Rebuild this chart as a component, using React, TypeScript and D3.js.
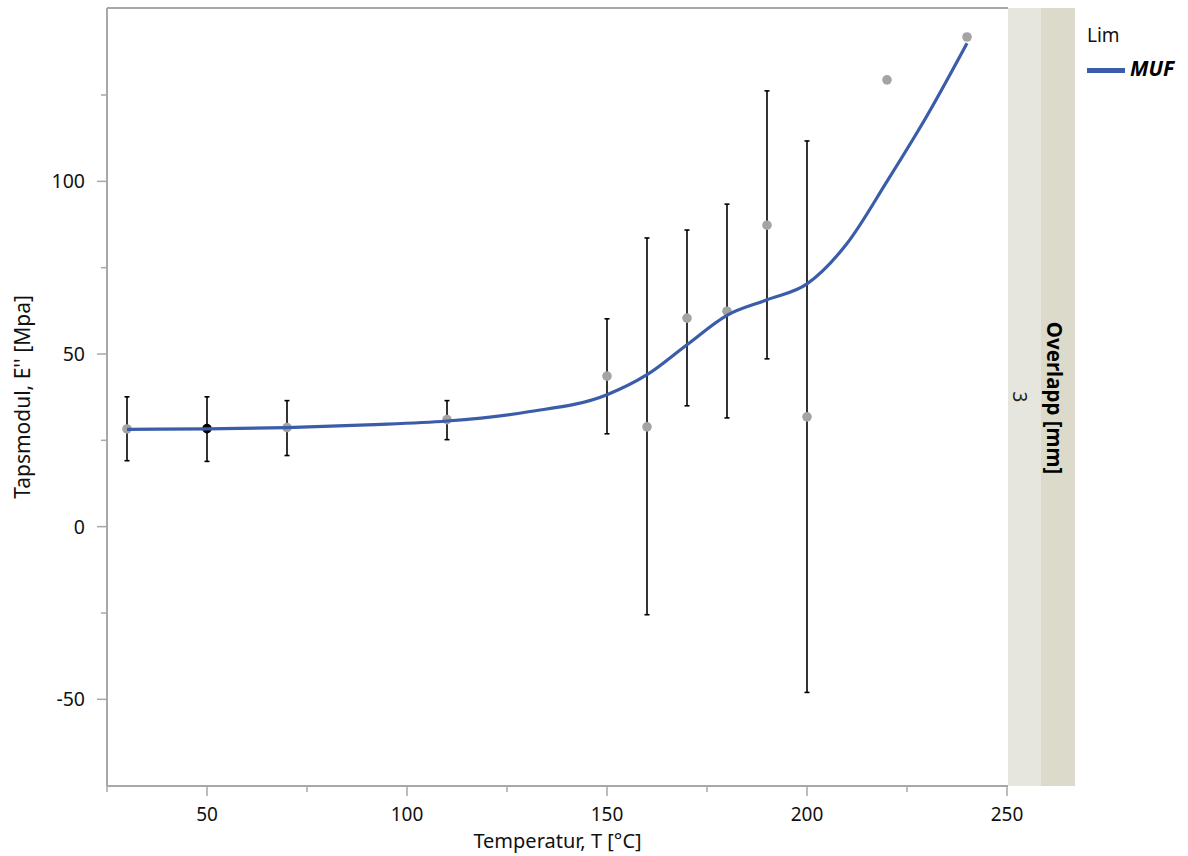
import React from "react";
import * as d3 from "d3";

const temps = [30, 50, 70, 110, 150, 160, 170, 180, 190, 200, 220, 240];
const means = [28.3, 28.4, 28.7, 31, 43.6, 28.9, 60.4, 62.4, 87.3, 31.8, 129.4, 141.8];
const lows = [19.1, 18.9, 20.6, 25.2, 26.9, -25.5, 35, 31.5, 48.6, -48, NaN, NaN];
const highs = [37.6, 37.6, 36.5, 36.5, 60.2, 83.6, 85.9, 93.4, 126.2, 111.7, NaN, NaN];
const highlighted = [false, true, false, false, false, false, false, false, false, false, false, false];

const fitT = [30, 50, 70, 90, 110, 130, 150, 160, 170, 180, 190, 200, 210, 220, 230, 240];
const fitV = [28.2, 28.3, 28.7, 29.5, 30.6, 33.2, 38.2, 44, 52.7, 61.2, 65.7, 70.3, 82, 100, 119, 140];

const xTicks = [50, 100, 150, 200, 250];
const xMinor = [75, 125, 175, 225];
const yTicks = [-50, 0, 50, 100];
const yMinor = [-25, 25, 75, 125];

const W = 1188, H = 856;
const L = 107, R = 1008, T = 8, B = 786;
const font = "'Noto Sans', 'Open Sans', sans-serif";

export default function App() {
  const x = d3.scaleLinear().domain([25, 250.25]).range([L, R]);
  const y = d3.scaleLinear().domain([-75.1, 150.2]).range([B, T]);
  const line = d3.line<number>().x((_, i) => x(fitT[i])).y((d) => y(d)).curve(d3.curveMonotoneX);
  const axisColor = "#a8a8a8";
  return (
    <svg width={W} height={H} style={{ position: "absolute", left: 0, top: 0 }} fontFamily={font}>
      <rect x={0} y={0} width={W} height={H} fill="#fff" />
      {/* facet strips */}
      <rect x={R} y={T} width={33} height={B - T} fill="#e7e6de" />
      <rect x={R + 33} y={T} width={34} height={B - T} fill="#dcdacb" />
      <text transform={`translate(1013,${(T + B) / 2}) rotate(90)`} textAnchor="middle" fontSize={19} fill="#222">3</text>
      <text transform={`translate(1047,${(T + B) / 2 + 1}) rotate(90)`} textAnchor="middle" fontSize={20.5} fontWeight="bold" fill="#000">Overlapp [mm]</text>
      {/* frame */}
      <line x1={L} x2={R} y1={T} y2={T} stroke={axisColor} strokeWidth={2} />
      <line x1={L} x2={L} y1={T} y2={B} stroke={axisColor} strokeWidth={2} />
      <line x1={L} x2={R} y1={B} y2={B} stroke={axisColor} strokeWidth={2} />
      {/* x ticks */}
      {xTicks.map((t) => (
        <g key={"xt" + t}>
          <line x1={x(t)} x2={x(t)} y1={B} y2={B + 10} stroke={axisColor} strokeWidth={1.5} />
          <text x={x(t)} y={B + 35} textAnchor="middle" fontSize={19} fill="#111">{t}</text>
        </g>
      ))}
      {xMinor.map((t) => (
        <line key={"xm" + t} x1={x(t)} x2={x(t)} y1={B} y2={B + 6} stroke={axisColor} strokeWidth={1.5} />
      ))}
      <line x1={L} x2={L} y1={B} y2={B + 6} stroke={axisColor} strokeWidth={1.5} />
      {yTicks.map((t) => (
        <g key={"yt" + t}>
          <line x1={L - 10} x2={L} y1={y(t)} y2={y(t)} stroke={axisColor} strokeWidth={1.5} />
          <text x={L - 22} y={y(t) + 7} textAnchor="end" fontSize={19.5} fill="#111">{t}</text>
        </g>
      ))}
      {yMinor.map((t) => (
        <line key={"ym" + t} x1={L - 6} x2={L} y1={y(t)} y2={y(t)} stroke={axisColor} strokeWidth={1.5} />
      ))}
      <text x={(L + R) / 2} y={848} textAnchor="middle" fontSize={20} fill="#111">Temperatur, T [°C]</text>
      <text transform={`translate(30,${(T + B) / 2}) rotate(-90)`} textAnchor="middle" fontSize={21} fill="#111">Tapsmodul, E'' [Mpa]</text>
      {/* error bars */}
      {temps.map((t, i) =>
        isNaN(lows[i]) ? null : (
          <g key={"eb" + t} stroke="#000" strokeWidth={1.6}>
            <line x1={x(t)} x2={x(t)} y1={y(lows[i])} y2={y(highs[i])} />
            <line x1={x(t) - 2.5} x2={x(t) + 2.5} y1={y(lows[i])} y2={y(lows[i])} />
            <line x1={x(t) - 2.5} x2={x(t) + 2.5} y1={y(highs[i])} y2={y(highs[i])} />
          </g>
        )
      )}
      {/* points */}
      {temps.map((t, i) => (
        <circle key={"p" + t} cx={x(t)} cy={y(means[i])} r={4.8} fill={highlighted[i] ? "#000" : "#a4a4a4"} />
      ))}
      {/* fit */}
      <path d={line(fitV) || ""} fill="none" stroke="#3a5ca9" strokeWidth={3.2} />
      {/* legend */}
      <text x={1087} y={42} fontSize={19} fill="#111">Lim</text>
      <line x1={1087} x2={1125} y1={70.5} y2={70.5} stroke="#3a5ca9" strokeWidth={5} />
      <text x={1130} y={76} fontSize={21} fontWeight="bold" fontStyle="italic" fill="#000">MUF</text>
    </svg>
  );
}
